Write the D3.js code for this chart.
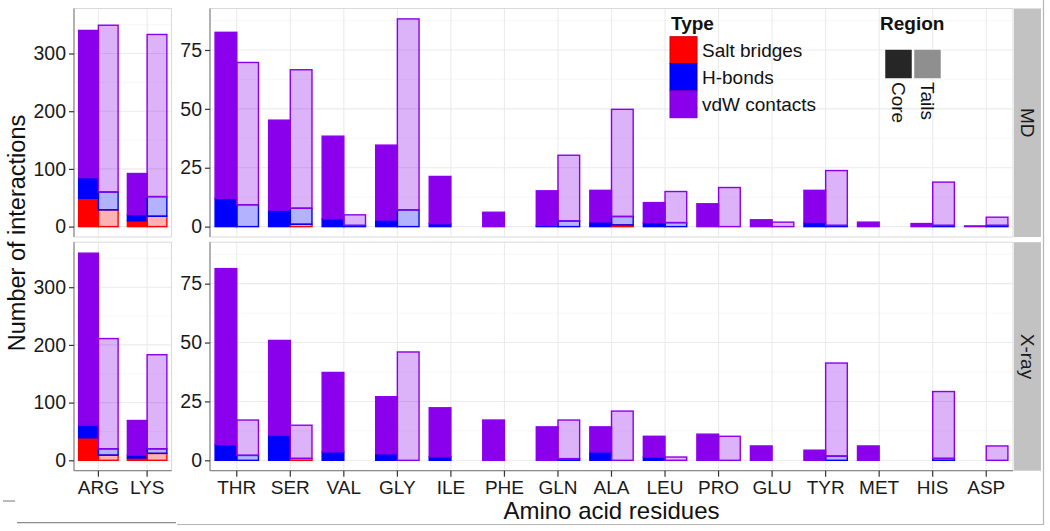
<!DOCTYPE html>
<html>
<head>
<meta charset="utf-8">
<script src="https://cdn.jsdelivr.net/npm/d3@7"></script>
<style>
  html, body { margin: 0; padding: 0; background: #fff; }
  svg { display: block; }
  text { font-family: "Liberation Sans", Arial, Helvetica, sans-serif; }
</style>
</head>
<body>
<svg id="chart" width="1050" height="531"></svg>
<script>
// ---------------- DATA ----------------
const leftResidues  = ["ARG", "LYS"];
const rightResidues = ["THR","SER","VAL","GLY","ILE","PHE","GLN","ALA","LEU","PRO","GLU","TYR","MET","HIS","ASP"];
const residues = leftResidues.concat(rightResidues);

const types   = ["Salt bridges", "H-bonds", "vdW contacts"];
const regions = ["Core", "Tails"];
const sources = ["MD", "X-ray"];

//                     ARG  LYS  THR   SER   VAL   GLY   ILE   PHE  GLN   ALA   LEU   PRO   GLU  TYR   MET  HIS   ASP
const mdCoreSalt    = [ 49,  10,  0,    0,    0,    0,    0,    0,   0,    0,    0,    0,    0,   0,    0,   0,    0  ];
const mdCoreHbond   = [ 36,  11,  12,   7,    3.3,  2.8,  1.2,  0,   0.5,  2,    1.7,  0,    0,   1.9,  0,   0,    0  ];
const mdCoreVdw     = [255,  71,  70.5, 38.2, 35.1, 31.8, 20.1, 6.1, 14.7, 13.4, 8.5,  9.7,  2.9, 13.5, 1.9, 1.3,  0.3];
const mdTailsSalt   = [ 29,  18,  0,    1,    0,    0,    0,    0,   0,    0.7,  0,    0,    0,   0,    0,   0,    0  ];
const mdTailsHbond  = [ 31,  34,  9.3,  6.8,  0.5,  7.1,  0,    0,   2.4,  3.6,  1.7,  0,    0,   0.5,  0,   0.5,  0.5];
const mdTailsVdw    = [289, 281,  60.4, 58.8, 4.5,  81.1, 0,    0,   27.9, 45.5, 13.2, 16.6, 1.9, 23.3, 0,   18.4, 3.5];

const xrCoreSalt    = [ 39,   4,  0,    0,    0,    0,    0,    0,   0,    0,    0,    0,    0,   0,    0,   0,    0  ];
const xrCoreHbond   = [ 22,   5,  6.7,  10.7, 3.6,  2.8,  1.5,  0,   0,    3.6,  1.4,  0,    0,   0,    0,   0,    0  ];
const xrCoreVdw     = [298,  60,  74.7, 40.2, 33.7, 24.2, 20.8, 17.1,14.2, 10.6, 8.8,  11.1, 6.1, 4.3,  6.1, 0,    0  ];
const xrTailsSalt   = [  9,  12,  0,    0.8,  0,    0,    0,    0,   0,    0,    0,    0,    0,   0,    0,   0,    0  ];
const xrTailsHbond  = [ 11,   8,  2.1,  0,    0,    0,    0,    0,   0.7,  0,    0,    0,    0,   1.8,  0,   0.8,  0  ];
const xrTailsVdw    = [191, 163,  15,   14.1, 0,    46,   0,    0,   16.4, 20.9, 1.4,  10.2, 0,   39.5, 0,   28.4, 6.1];

const leftTicks  = [0, 100, 200, 300];
const rightTicks = [0, 25, 50, 75];

const typeColors = ["#ff0000", "#0000ff", "#8b00ec"];
const regionAlpha = [1, 0.3];
const regionKeyColors = ["#262626", "#8f8f8f"];

// ---------------- BUILD RECORDS ----------------
const seriesTable = {
  "MD":    { "Core": [mdCoreSalt, mdCoreHbond, mdCoreVdw], "Tails": [mdTailsSalt, mdTailsHbond, mdTailsVdw] },
  "X-ray": { "Core": [xrCoreSalt, xrCoreHbond, xrCoreVdw], "Tails": [xrTailsSalt, xrTailsHbond, xrTailsVdw] }
};
const records = [];
sources.forEach(src => {
  regions.forEach((reg, ri) => {
    residues.forEach((res, i) => {
      let base = 0;
      types.forEach((t, ti) => {
        const v = seriesTable[src][reg][ti][i];
        if (v > 0) records.push({ src, reg, ri, res, type: t, ti, y0: base, y1: base + v });
        base += v;
      });
    });
  });
});

// ---------------- LAYOUT ----------------
const svg = d3.select("#chart");
const panelRows = [ { src: "MD", top: 8.5, bottom: 237 }, { src: "X-ray", top: 242.2, bottom: 470.7 } ];
const leftRange  = [74, 171.5];
const rightRange = [210, 1013];

const xLeft  = d3.scaleBand().domain(leftResidues).range(leftRange).paddingInner(0).paddingOuter(0);
const xRight = d3.scaleBand().domain(rightResidues).range(rightRange).paddingInner(0).paddingOuter(0);
const barFrac = 0.405;

const font = "\"Liberation Sans\", Arial, Helvetica, sans-serif";

// Stray frame lines of the original figure
const frame = svg.append("g").attr("stroke", "#b5b5b5").attr("stroke-width", 1.2).attr("fill", "none");
frame.append("line").attr("x1", 1043.5).attr("x2", 1043.5).attr("y1", 0).attr("y2", 525);
frame.append("line").attr("x1", 177).attr("x2", 1043.5).attr("y1", 524.5).attr("y2", 524.5);
frame.append("line").attr("x1", 17).attr("x2", 176).attr("y1", 522.7).attr("y2", 522.7).attr("stroke", "#8c8c8c");
frame.append("line").attr("x1", 3).attr("x2", 15).attr("y1", 501).attr("y2", 501).attr("stroke", "#8c8c8c");

function drawPanel(row, xScale, xr, domain, ticks, isBottom, hasStrip) {
  const y = d3.scaleLinear().domain(domain).range([row.bottom, row.top]);
  const g = svg.append("g");
  g.append("rect").attr("x", xr[0]).attr("y", row.top).attr("width", xr[1] - xr[0]).attr("height", row.bottom - row.top)
    .attr("fill", "#fff");
  const minor = ticks.slice(0, -1).map((t, i) => (t + ticks[i + 1]) / 2).concat([ticks[ticks.length - 1] + (ticks[1] - ticks[0]) / 2])
    .filter(v => v < domain[1]);
  g.selectAll(".minor").data(minor).join("line")
    .attr("x1", xr[0]).attr("x2", xr[1]).attr("y1", d => y(d)).attr("y2", d => y(d))
    .attr("stroke", "#f5f5f5").attr("stroke-width", 0.8);
  g.selectAll(".hgrid").data(ticks).join("line")
    .attr("x1", xr[0]).attr("x2", xr[1]).attr("y1", d => y(d)).attr("y2", d => y(d))
    .attr("stroke", "#ebebeb").attr("stroke-width", 1.1);
  g.selectAll(".vgrid").data(xScale.domain()).join("line")
    .attr("x1", d => xScale(d) + xScale.bandwidth() / 2).attr("x2", d => xScale(d) + xScale.bandwidth() / 2)
    .attr("y1", row.top).attr("y2", row.bottom)
    .attr("stroke", "#ebebeb").attr("stroke-width", 1.1);

  const bw = xScale.bandwidth() * barFrac;
  const recs = records.filter(r => r.src === row.src && xScale.domain().includes(r.res));
  g.selectAll(".bar").data(recs).join("rect")
    .attr("x", d => { const c = xScale(d.res) + xScale.bandwidth() / 2; return d.ri === 0 ? c - bw : c; })
    .attr("width", bw)
    .attr("y", d => y(d.y1))
    .attr("height", d => Math.max(0, y(d.y0) - y(d.y1)))
    .attr("fill", d => typeColors[d.ti])
    .attr("fill-opacity", d => regionAlpha[d.ri])
    .attr("stroke", d => typeColors[d.ti])
    .attr("stroke-width", 1.4);

  g.append("rect").attr("x", xr[0]).attr("y", row.top).attr("width", xr[1] - xr[0]).attr("height", row.bottom - row.top)
    .attr("fill", "none").attr("stroke", "#dadada").attr("stroke-width", 1);

  const ya = g.append("g").attr("transform", `translate(${xr[0]},0)`)
    .call(d3.axisLeft(y).tickValues(ticks).tickSize(5).tickPadding(3).tickFormat(d3.format("d")));
  ya.select(".domain").attr("d", `M0,${row.top}V${row.bottom}`).attr("stroke", "#8a8a8a").attr("stroke-width", 1.2);
  ya.selectAll(".tick line").attr("stroke", "#333").attr("stroke-width", 1.2);
  ya.selectAll(".tick text").attr("font-size", 19.5).attr("font-family", font).attr("fill", "#1a1a1a");

  if (isBottom) {
    const xa = g.append("g").attr("transform", `translate(0,${row.bottom})`)
      .call(d3.axisBottom(xScale).tickSize(6).tickPadding(4));
    xa.select(".domain").attr("d", `M${xr[0]},0H${xr[1]}`).attr("stroke", "#8a8a8a").attr("stroke-width", 1.2);
    xa.selectAll(".tick line").attr("stroke", "#333").attr("stroke-width", 1.2);
    xa.selectAll(".tick text").attr("font-size", 19).attr("font-family", font).attr("fill", "#1a1a1a");
  }

  if (hasStrip) {
    const sx0 = 1014, sx1 = 1041;
    g.append("rect").attr("x", sx0).attr("y", row.top).attr("width", sx1 - sx0).attr("height", row.bottom - row.top)
      .attr("fill", "#c2c2c2");
    const cy = (row.top + row.bottom) / 2, cx = (sx0 + sx1) / 2;
    g.append("text").attr("transform", `translate(${cx},${cy}) rotate(90)`)
      .attr("text-anchor", "middle").attr("dy", "0.35em")
      .attr("font-size", 19).attr("font-family", font).attr("fill", "#1a1a1a").text(row.src);
  }
}

panelRows.forEach((row, i) => {
  const isBottom = i === panelRows.length - 1;
  drawPanel(row, xLeft, leftRange, [-18, 378], leftTicks, isBottom, false);
  drawPanel(row, xRight, rightRange, [-4.41, 92.61], rightTicks, isBottom, true);
});

// axis titles
svg.append("text").attr("x", 611.5).attr("y", 519)
  .attr("text-anchor", "middle").attr("font-size", 24).attr("font-family", font).attr("fill", "#111")
  .text("Amino acid residues");
svg.append("text").attr("transform", "translate(25,233) rotate(-90)")
  .attr("text-anchor", "middle").attr("font-size", 23.5).attr("font-family", font).attr("fill", "#111")
  .text("Number of interactions");

// ---------------- LEGENDS ----------------
const lg = svg.append("g");
lg.append("text").attr("x", 671).attr("y", 29.5).attr("font-size", 19).attr("font-weight", "bold")
  .attr("font-family", font).attr("fill", "#111").text("Type");
const keyY0 = 36.7, keyS = 27;
types.forEach((t, i) => {
  lg.append("rect").attr("x", 670).attr("y", keyY0 + i * keyS).attr("width", keyS).attr("height", keyS)
    .attr("fill", typeColors[i]).attr("stroke", d3.color(typeColors[i]).darker(0.6)).attr("stroke-width", 1);
  lg.append("text").attr("x", 702).attr("y", keyY0 + i * keyS + keyS / 2).attr("dy", "0.35em")
    .attr("font-size", 19).attr("font-family", font).attr("fill", "#111").text(t);
});

lg.append("text").attr("x", 880).attr("y", 29.5).attr("font-size", 19).attr("font-weight", "bold")
  .attr("font-family", font).attr("fill", "#111").text("Region");
regions.forEach((r, i) => {
  const x = 885 + i * 29;
  lg.append("rect").attr("x", x).attr("y", 49.5).attr("width", 27).attr("height", 29)
    .attr("fill", regionKeyColors[i]).attr("stroke", "#fff").attr("stroke-width", 0.5);
  lg.append("text").attr("transform", `translate(${x + 13.5},82) rotate(90)`)
    .attr("dy", "0.35em").attr("text-anchor", "start")
    .attr("font-size", 19).attr("font-family", font).attr("fill", "#111").text(r);
});
</script>
</body>
</html>
